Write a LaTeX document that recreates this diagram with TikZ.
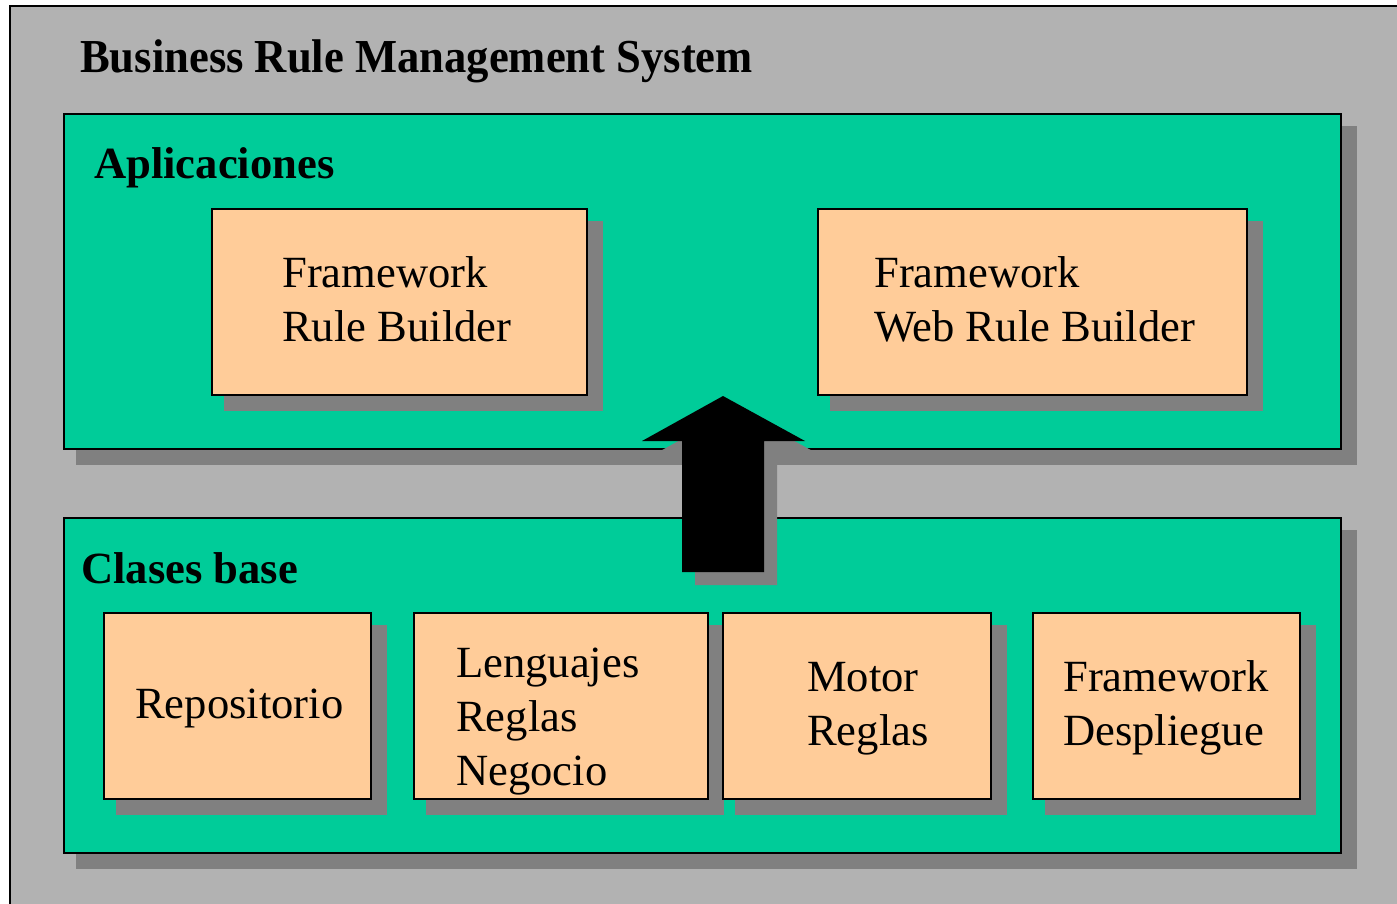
\documentclass[tikz,border=0pt]{standalone}
\usepackage{fontspec}
\setmainfont{Liberation Serif}
\usetikzlibrary{fit}
\definecolor{bggray}{HTML}{B2B2B2}
\definecolor{shadowgray}{HTML}{808080}
\definecolor{boxgreen}{HTML}{00CC99}
\definecolor{boxorange}{HTML}{FFCC99}
\tikzset{
  greenbox/.style={draw=black, line width=2pt, fill=boxgreen, inner sep=0pt},
  orangebox/.style={draw=black, line width=1.6pt, fill=boxorange, inner sep=0pt},
  shadowfill/.style={fill=shadowgray},
  txt/.style={anchor=base west, inner sep=0pt, font=\fontsize{44.6pt}{54pt}\selectfont},
  btxt/.style={txt, font=\fontsize{44.6pt}{54pt}\selectfont\bfseries},
}
\newcommand{\shadowedbox}[6]{%
  \fill[shadowfill] (#3+12,#4+12) rectangle (#5+16,#6+16);
  \node[#2, fit={(#3,#4) (#5,#6)}] (#1) {};
}
\begin{document}
\begin{tikzpicture}[x=1pt,y=-1pt]
\useasboundingbox (0,0) rectangle (1397,904);
\begin{scope}
\clip (0,0) rectangle (1397,904);
\fill[white] (0,0) rectangle (1397,904);
\draw[line width=2pt, fill=bggray] (10,6) rectangle (1420,930);
\end{scope}

\node[btxt, yscale=1.06] (title) at (80,73) {Business Rule Management System};

% Aplicaciones
\shadowedbox{apps}{greenbox}{64}{114}{1341}{449}
\node[btxt] (appslbl) at (94,179) {Aplicaciones};
\shadowedbox{rb}{orangebox}{212}{209}{587}{395}
\node[txt] (rb1) at (282,287) {Framework};
\node[txt] (rb2) at (282,341) {Rule Builder};
\shadowedbox{wrb}{orangebox}{818}{209}{1247}{395}
\node[txt] (wrb1) at (874,287) {Framework};
\node[txt] (wrb2) at (874,341) {Web Rule Builder};

% Clases base
\shadowedbox{base}{greenbox}{64}{518}{1341}{853}
\node[btxt] (baselbl) at (81,583) {Clases base};
\shadowedbox{repo}{orangebox}{104}{613}{371}{799}
\node[txt] (repo1) at (135,718) {Repositorio};
\shadowedbox{leng}{orangebox}{414}{613}{708}{799}
\node[txt] (leng1) at (456,677) {Lenguajes};
\node[txt] (leng2) at (456,731) {Reglas};
\node[txt] (leng3) at (456,785) {Negocio};
\shadowedbox{motor}{orangebox}{723}{613}{991}{799}
\node[txt] (motor1) at (807,691) {Motor};
\node[txt] (motor2) at (807,745) {Reglas};
\shadowedbox{desp}{orangebox}{1033}{613}{1300}{799}
\node[txt] (desp1) at (1063,691) {Framework};
\node[txt] (desp2) at (1063,745) {Despliegue};

% Arrow
\fill[shadowgray, shift={(13,13)}] (723,396) -- (805,441) -- (764,441) -- (764,572) -- (682,572) -- (682,441) -- (642,441) -- cycle;
\fill[black] (723,396) -- (805,441) -- (764,441) -- (764,572) -- (682,572) -- (682,441) -- (642,441) -- cycle;
\end{tikzpicture}
\end{document}
